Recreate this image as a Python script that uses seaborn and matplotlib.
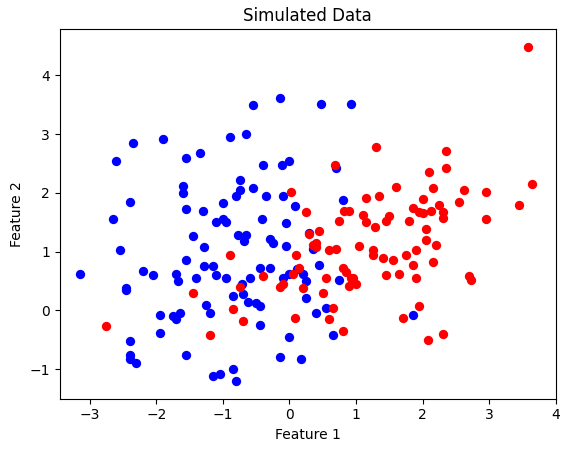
import matplotlib
matplotlib.use("Agg")
import matplotlib.pyplot as plt
import seaborn as sns

blue_x = [-3.15, -2.6, -2.65, -2.55, -2.45, -2.45, -2.4, -2.35, -2.4, -2.4, -2.4, -2.3, -2.2, -2.05, -1.9, -1.95, -1.95,
          -1.75, -1.7, -1.68, -1.7, -1.65, -1.6, -1.6, -1.55, -1.55, -1.55, -1.55, -1.45, -1.4, -1.35, -1.3, -1.28, -1.28,
          -1.25, -1.2, -1.15, -1.15, -1.1, -1.1, -1.05, -1.0, -1.0, -0.95, -0.95, -0.9, -0.85, -0.85, -0.8, -0.8, -0.78,
          -0.75, -0.75, -0.72, -0.7, -0.68, -0.65, -0.65, -0.62, -0.6, -0.55, -0.55, -0.5, -0.45, -0.45, -0.4, -0.42,
          -0.45, -0.35, -0.3, -0.3, -0.25, -0.15, -0.12, -0.1, -0.1, -0.15, -0.05, -0.05, 0.0, 0.0, 0.0, 0.08, 0.12,
          0.18, 0.2, 0.25, 0.25, 0.3, 0.35, 0.45, 0.4, 0.48, 0.55, 0.65, 0.7, 0.75, 0.8, 0.92, 1.85]
blue_y = [0.62, 2.55, 1.55, 1.02, 0.38, 0.35, 1.85, 2.85, -0.52, -0.75, -0.82, -0.9, 0.67, 0.6, 2.92, -0.08, -0.38,
          -0.1, -0.15, 0.5, 0.62, -0.05, 2.0, 2.12, 2.6, 1.72, 0.85, -0.75, 1.27, 0.55, 2.68, 1.7, 1.08, 0.75,
          0.1, -0.05, 0.75, -1.12, 1.5, 0.6, -1.08, 1.82, 1.55, 1.5, 0.55, 2.95, 0.25, -1.0, 1.95, -1.2, 1.28,
          2.22, 2.05, 0.45, 0.28, 1.18, 3.0, 1.28, 0.15, 0.55, 3.5, 2.08, 0.12, 0.08, 0.72, 2.48, 1.55,
          -0.25, 1.95, 1.22, 0.72, 1.15, 3.62, 2.48, 1.95, 0.55, -0.8, 1.48, 1.1, 2.55, -0.45, 0.62, 1.78, 0.7,
          -0.82, 0.62, 0.5, 0.22, 1.32, 1.05, 0.78, -0.05, 3.52, 0.05, -0.42, 2.42, 0.52, 1.88, 3.52, -0.08]

red_x = [-2.75, -1.45, -1.2, -0.9, -0.85, -0.75, -0.7, -0.4, -0.15, -0.1, 0.02, 0.05, 0.08, 0.1, 0.15, 0.2, 0.25, 0.3,
         0.35, 0.4, 0.4, 0.45, 0.5, 0.55, 0.6, 0.6, 0.65, 0.68, 0.7, 0.75, 0.8, 0.82, 0.8, 0.85, 0.9, 0.9, 0.92, 0.95,
         1.0, 1.05, 1.1, 1.15, 1.15, 1.25, 1.25, 1.28, 1.3, 1.35, 1.4, 1.45, 1.45, 1.5, 1.55, 1.6, 1.65, 1.7, 1.75,
         1.8, 1.85, 1.85, 1.9, 1.9, 1.95, 1.95, 2.0, 2.0, 2.05, 2.05, 2.08, 2.1, 2.12, 2.15, 2.15, 2.2, 2.25, 2.3,
         2.3, 2.3, 2.35, 2.35, 2.55, 2.62, 2.7, 2.72, 2.95, 2.95, 3.45, 3.58, 3.65]
red_y = [-0.27, 0.3, -0.42, 0.95, 0.02, 0.4, -0.18, 0.58, 0.4, 0.45, 2.02, 0.62, -0.12, 0.95, 0.72, 0.38, 1.68, 1.3,
         1.12, 1.08, 1.15, 1.35, 0.3, 0.55, -0.15, 1.02, 0.05, 2.48, 1.05, 1.52, 0.72, 1.7, -0.35, 0.65, 1.7, 0.42, 0.55,
         0.55, 0.45, 1.1, 1.62, 1.92, 1.5, 0.95, 1.02, 1.42, 2.78, 1.95, 0.9, 1.52, 0.6, 1.6, 0.85, 2.1, 0.62, -0.12,
         0.95, 1.52, 1.75, 0.78, 1.02, 0.55, 0.08, 1.68, 1.9, 1.65, 1.2, 1.38, -0.5, 2.35, 1.7, 0.82, 2.08, 1.12, 1.8,
         -0.4, 1.68, 1.58, 2.72, 2.42, 1.85, 2.05, 0.58, 0.52, 2.02, 1.55, 1.8, 4.48, 2.15]

fig, ax = plt.subplots(figsize=(5.7, 4.53), dpi=100)
sns.scatterplot(x=blue_x, y=blue_y, color="blue", s=45, linewidth=0, ax=ax)
sns.scatterplot(x=red_x, y=red_y, color="red", s=45, linewidth=0, ax=ax)
ax.set_xlim(-3.45, 4.0)
ax.set_ylim(-1.5, 4.78)
ax.set_title("Simulated Data")
ax.set_xlabel("Feature 1")
ax.set_ylabel("Feature 2")
fig.subplots_adjust(left=0.105, right=0.975, bottom=0.12, top=0.935)
fig.savefig("out.png")
